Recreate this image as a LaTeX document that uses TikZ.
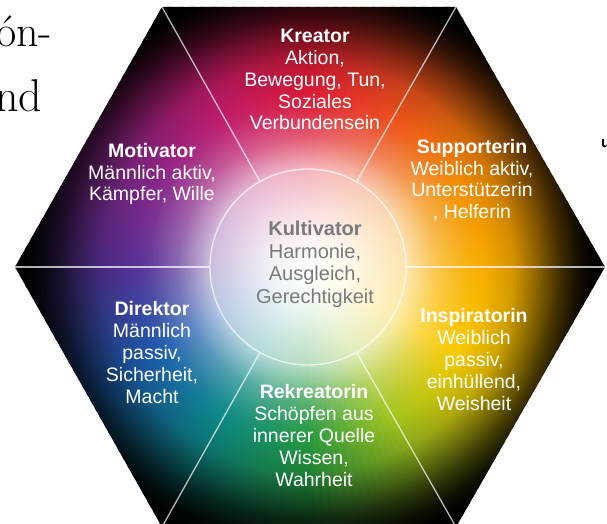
\documentclass[tikz,border=0pt]{standalone}
\usepackage{fontspec}
\newfontfamily\sansf{Liberation Sans}
\usetikzlibrary{calc}
\definecolor{cG}{HTML}{23983F}
\definecolor{cYG}{HTML}{A2C41E}
\definecolor{cY}{HTML}{F7C900}
\definecolor{cYO}{HTML}{F8AE00}
\definecolor{cO}{HTML}{F28C05}
\definecolor{cRO}{HTML}{EC501C}
\definecolor{cR}{HTML}{DC1A36}
\definecolor{cMa}{HTML}{C01B6A}
\definecolor{cPu}{HTML}{8A2688}
\definecolor{cVi}{HTML}{573096}
\definecolor{cBl}{HTML}{1C5CAE}
\definecolor{cTe}{HTML}{0D8888}
\definecolor{kgray}{HTML}{7A7A7A}
\colorlet{wc}{red}
\pgfdeclarehorizontalshading[wc]{wedgeshade}{100bp}{color(0bp)=(white); color(25bp)=(white); color(31.7bp)=(wc!8!white); color(41.3bp)=(wc!32!white); color(46.7bp)=(wc!72!white); color(51.7bp)=(wc!95!white); color(54bp)=(wc); color(59.2bp)=(wc!85!black); color(63.3bp)=(wc!55!black); color(66.7bp)=(wc!28!black); color(70bp)=(wc!8!black); color(72.5bp)=(black); color(100bp)=(black)}
\tikzset{
  divider/.style={draw=white, draw opacity=0.7, line width=1.3pt},
  label/.style={text=white, align=center, inner sep=0pt, anchor=north,
    font=\sansf\fontsize{19.5}{21.8}\selectfont},
}
\begin{document}
\begin{tikzpicture}[x=1pt,y=1pt]
\useasboundingbox (0,0) rectangle (607,524);
\coordinate (C) at (308,257);
\coordinate (L) at (15,257);
\coordinate (R) at (605,257);
\coordinate (TL) at (162,517);
\coordinate (TR) at (456,517);
\coordinate (BL) at (162,-3);
\coordinate (BR) at (456,-3);
\begin{scope}
\clip (L) -- (TL) -- (TR) -- (R) -- (BR) -- (BL) -- cycle;
\foreach \a/\ca/\cb in {-90/cG/cYG, -60/cYG/cY, -30/cY/cYO, 0/cYO/cO, 30/cO/cRO, 60/cRO/cR, 90/cR/cMa, 120/cMa/cPu, 150/cPu/cVi, 180/cVi/cBl, 210/cBl/cTe, 240/cTe/cG}{
  \foreach \i in {0,...,14}{
    \pgfmathsetmacro{\t}{(2*\i+1)*10/3}
    \pgfmathsetmacro{\ang}{\a+2*\i+1}
    \colorlet{wc}{\cb!\t!\ca}
    \begin{scope}[transform canvas={shift={(308pt,257pt)}, rotate=\ang}]
      \shade[shading=wedgeshade] (0,0) -- (300,-7.5) -- (300,7.5) -- cycle;
    \end{scope}
  }
}
\end{scope}
\node[circle, inner sep=0pt, minimum size=196pt, divider] (core) at (C) {};
\foreach \v in {L,R,TL,TR,BL,BR}{
  \draw[divider] (core) -- (\v);
}
\node[label] (kreator) at (315,495) {{\bfseries Kreator}\\Aktion,\\Bewegung, Tun,\\Soziales\\Verbundensein};
\node[label] (supp) at (472,385) {{\bfseries Supporterin}\\Weiblich aktiv,\\Unterstützerin\\, Helferin};
\node[label, font=\sansf\fontsize{19.5}{22}\selectfont] (insp) at (474,216) {{\bfseries Inspiratorin}\\Weiblich\\passiv,\\einhüllend,\\Weisheit};
\node[label, font=\sansf\fontsize{19.5}{22}\selectfont] (rekr) at (314,140) {{\bfseries Rekreatorin}\\Schöpfen aus\\innerer Quelle\\Wissen,\\Wahrheit};
\node[label, font=\sansf\fontsize{19.5}{22}\selectfont] (dir) at (152,223) {{\bfseries Direktor}\\Männlich\\passiv,\\Sicherheit,\\Macht};
\node[label] (mot) at (152,381) {{\bfseries Motivator}\\Männlich aktiv,\\Kämpfer, Wille};
\node[label, text=kgray, font=\sansf\fontsize{20}{22.5}\selectfont] (kult) at (315,303) {{\bfseries Kultivator}\\Harmonie,\\Ausgleich,\\Gerechtigkeit};
\node[anchor=base west, inner sep=0pt, font=\fontsize{44}{50}\selectfont] (fragA) at (-4,477) {ón-};
\node[anchor=base west, inner sep=0pt, font=\fontsize{46}{50}\selectfont] (fragB) at (-5,412) {nd};
\node[anchor=base west, inner sep=0pt, font=\sansf\bfseries\fontsize{15}{18}\selectfont] (fragC) at (601,376) {u};
\end{tikzpicture}
\end{document}
